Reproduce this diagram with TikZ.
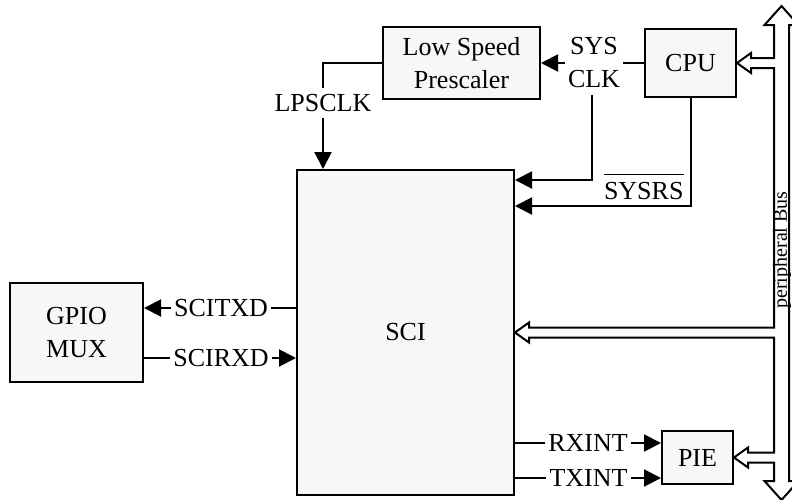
\documentclass[tikz,border=0pt]{standalone}
\usepackage{fontspec}
\setmainfont{Liberation Serif}
\usetikzlibrary{positioning,calc,arrows.meta}

\begin{document}
\begin{tikzpicture}[
  x=0.5pt, y=-0.5pt,
  box/.style={draw, rectangle, line width=1pt, fill=gray!6, align=center, font=\fontsize{13pt}{16.5pt}\selectfont},
  sig/.style={inner xsep=1.5pt, inner ysep=3pt, align=center, font=\fontsize{13pt}{16.5pt}\selectfont},
  wire/.style={line width=1pt},
  arrow/.style={wire, -{Triangle[length=8.5pt,width=8.5pt]}},
  bus/.style={draw, line width=1pt, fill=white, line join=miter}
]
\useasboundingbox (0,0) rectangle (792,499);
\clip (0,0) rectangle (792,499);

% blocks
\node[box, minimum width=108.5pt, minimum height=162.5pt] (sci) at (405.5,332.5) {SCI};
\node[box, minimum width=78.5pt, minimum height=36pt] (pre) at (461.5,63) {Low Speed\\Prescaler};
\node[box, minimum width=45.5pt, minimum height=34pt, right=51.5pt of pre] (cpu) {CPU};
\node[box, minimum width=66.5pt, minimum height=49.5pt, left=76pt of sci] (gpio) {GPIO\\MUX};
\node[box, minimum width=35.5pt, minimum height=26.5pt] (pie) at (697.5,457.5) {PIE};

% signal names
\node[sig] (sysclk) at (594,63) {SYS\\CLK};
\node[sig] (lpsclk) at (323,103) {LPSCLK};
\node[sig] (scitxd) at (221,308) {SCITXD};
\node[sig] (scirxd) at (221,358) {SCIRXD};
\node[sig] (rxint) at (588,443) {RXINT};
\node[sig] (txint) at (588.5,478) {TXINT};

% clock and reset
\draw[wire] (cpu.west) -- (sysclk);
\draw[arrow] (sysclk) -- (pre.east);
\draw[wire] (pre.west) -| (lpsclk);
\draw[arrow] (lpsclk) -- (lpsclk |- sci.north);
\draw[arrow] ([xshift=-1pt]sysclk.south) |- ($(sci.north east)+(0,11)$);
\draw[arrow] (cpu.south) |- ($(sci.north east)+(0,37)$)
  node[pos=0.5, anchor=south east, inner sep=3pt, font=\fontsize{13pt}{16.5pt}\selectfont]
  {$\overline{\raisebox{0pt}[11pt][0pt]{SYSRS}}$};

% serial lines
\draw[wire] (scitxd -| sci.west) -- (scitxd);
\draw[arrow] (scitxd) -- (scitxd -| gpio.east);
\draw[wire] (scirxd -| gpio.east) -- (scirxd);
\draw[arrow] (scirxd) -- (scirxd -| sci.west);

% interrupts
\draw[wire] (rxint -| sci.east) -- (rxint);
\draw[arrow] (rxint) -- (rxint -| pie.west);
\draw[wire] (txint -| sci.east) -- (txint);
\draw[arrow] (txint) -- (txint -| pie.west);

% peripheral bus
\coordinate (bustop) at (781.5,6);
\coordinate (busbot) at (781.5,500);
\coordinate (busL) at (774,0);
\draw[bus] (bustop) -- ++(17,19) -- ++(-9.5,0) -- ($(busbot)+(7.5,-19)$) -- ++(9.5,0)
  -- (busbot) -- ++(-17,-19) -- ++(9.5,0)
  -- ($(pie.east -| busL)+(0,5)$) -- ($(pie.east)+(14,5)$) -- ++(0,5) -- (pie.east)
  -- ++(14,-10) -- ++(0,5) -- ($(pie.east -| busL)+(0,-5)$)
  -- ($(sci.east -| busL)+(0,5)$) -- ($(sci.east)+(14,5)$) -- ++(0,5) -- (sci.east)
  -- ++(14,-10) -- ++(0,5) -- ($(sci.east -| busL)+(0,-5)$)
  -- ($(cpu.east -| busL)+(0,5)$) -- ($(cpu.east)+(14,5)$) -- ++(0,5) -- (cpu.east)
  -- ++(14,-10) -- ++(0,5) -- ($(cpu.east -| busL)+(0,-5)$)
  -- ($(bustop)+(-7.5,19)$) -- ++(-9.5,0) -- cycle;
\node[rotate=90, inner sep=0pt, font=\fontsize{10pt}{12pt}\selectfont] (buslbl) at (782,250) {peripheral Bus};
\end{tikzpicture}
\end{document}
